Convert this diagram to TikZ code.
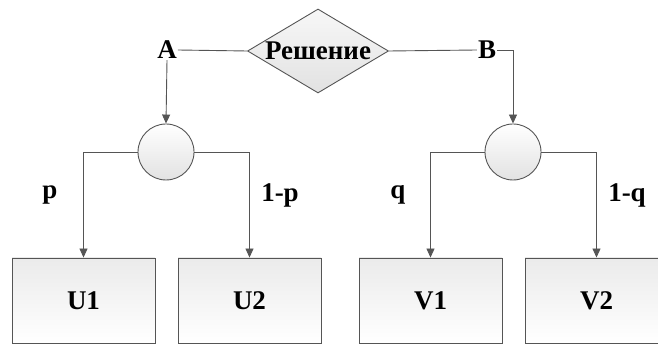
\documentclass[tikz,border=0pt]{standalone}
\usepackage{fontspec}
\newfontfamily\labelfont{Liberation Serif}
\usetikzlibrary{shapes.geometric,arrows.meta}
\definecolor{edge}{HTML}{555555}
\definecolor{shadeA}{HTML}{F7F7F7}
\definecolor{shadeB}{HTML}{E2E2E2}
\begin{document}
\begin{tikzpicture}[x=1pt,y=-1pt,
  every node/.style={font=\labelfont\bfseries\fontsize{27}{29}\selectfont, text=black},
  link/.style={draw=edge, line width=0.9pt},
  arr/.style={link, -{Triangle[length=9pt,width=8pt]}},
  decision/.style={diamond, draw=edge, line width=0.9pt, minimum width=141pt, minimum height=84pt,
    inner sep=0pt, top color=shadeA, bottom color=shadeB},
  chance/.style={circle, draw=edge, line width=0.9pt, minimum size=56pt, inner sep=0pt,
    top color=white, bottom color=shadeB},
  outcome/.style={rectangle, draw=edge, line width=0.9pt, minimum width=143pt, minimum height=85pt,
    inner sep=0pt, top color=shadeB!70, bottom color=white},
  lab/.style={inner sep=1pt}]
\useasboundingbox (0,0) rectangle (658,344);
\clip (0,0) rectangle (658,344);

% decision node and its two branches
\node[decision] (dec) at (318,51) {};
\node (dectext) at (dec.center) {Решение};
\node[lab] (A) at (167,50) {A};
\node[lab] (B) at (487,50) {B};

% chance nodes
\node[chance] (c1) at (166,152) {};
\node[chance] (c2) at (513,152) {};

% outcomes
\node[outcome] (u1) at (83.5,300.5) {U1};
\node[outcome] (u2) at (249.5,300.5) {U2};
\node[outcome] (v1) at (430.5,300.5) {V1};
\node[outcome] (v2) at (596.5,300.5) {V2};

% probability labels
\node[lab] (lp)  at (50,195) {p};
\node[lab] (l1p) at (280,195) {1-p};
\node[lab] (lq)  at (398,195) {q};
\node[lab] (l1q) at (627,195) {1-q};

% connectors
\draw[link] (dec.west) -- (A.east);
\draw[link] (dec.east) -- (B.west);
\draw[arr] (A.south) -- (c1.north);
\draw[arr] (B.east) -| (c2.north);
\draw[arr] (c1.west) -| (u1.north);
\draw[arr] (c1.east) -| (u2.north);
\draw[arr] (c2.west) -| (v1.north);
\draw[arr] (c2.east) -| (v2.north);
\end{tikzpicture}
\end{document}
